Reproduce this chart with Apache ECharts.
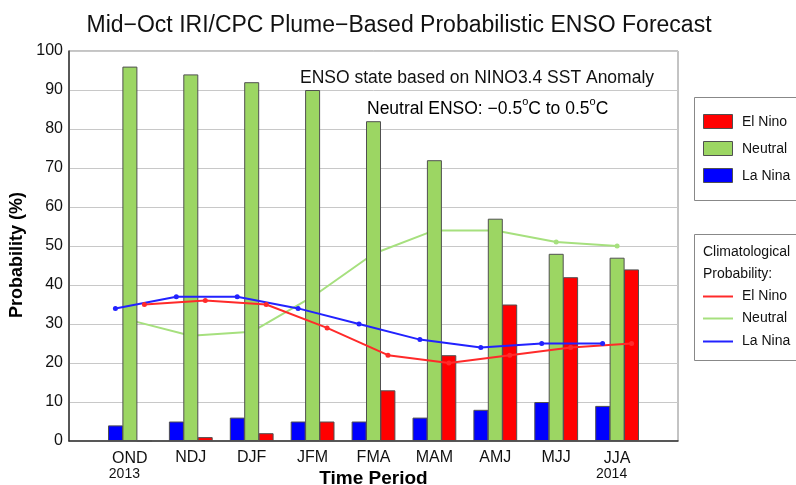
<!DOCTYPE html>
<html>
<head>
<meta charset="utf-8">
<script src="https://cdn.jsdelivr.net/npm/echarts@6/dist/echarts.min.js"></script>
<style>
html,body{margin:0;padding:0;background:#fff;}
#chart{width:796px;height:485px;}
</style>
</head>
<body>
<div id="chart"></div>
<script>
// Categories (first/last blank slots pad the axis)
const categories = ['', 'OND', 'NDJ', 'DJF', 'JFM', 'FMA', 'MAM', 'AMJ', 'MJJ', 'JJA', ''];
const yearLabels = {OND: '2013', JJA: '2014'};
const yTicks = [0, 10, 20, 30, 40, 50, 60, 70, 80, 90, 100];

// Forecast probabilities (bars), one value per season OND..JJA
const laNinaProb  = [4, 5, 6, 5, 5, 6, 8, 10, 9];
const neutralProb = [96, 94, 92, 90, 82, 72, 57, 48, 47];
const elNinoProb  = [0, 1, 2, 5, 13, 22, 35, 42, 44];

// Climatological probabilities (lines)
const climLaNina  = [34, 37, 37, 34, 30, 26, 24, 25, 25];
const climNeutral = [31, 27, 28, 37, 48, 54, 54, 51, 50];
const climElNino  = [35, 36, 35, 29, 22, 20, 22, 24, 25];

const FONT = '"Liberation Sans", Arial, Helvetica, sans-serif';
const RED = '#ff0000', GREEN = '#9cd663', BLUE = '#0000ff';
const LRED = '#ff2a2a', LGREEN = '#a6e07e', LBLUE = '#2222ff';

const chart = echarts.init(document.getElementById('chart'), null, {renderer: 'canvas'});

const off = 0.238; // bar offset in category units
const toPts = (arr, d) => arr.map((v, i) => [i + 1 + d, v]);

const barStyle = c => ({color: c, borderColor: '#505050', borderWidth: 1});

chart.setOption({
  backgroundColor: '#fff',
  animation: false,
  title: {
    text: 'Mid\u2212Oct IRI/CPC Plume\u2212Based Probabilistic ENSO Forecast',
    left: 394, top: 9, textAlign: 'center',
    textStyle: {fontFamily: FONT, fontSize: 23, fontWeight: 'normal', color: '#111'}
  },
  grid: {left: 69, right: 118, top: 51, bottom: 44, show: true, borderColor: '#888', borderWidth: 1,
    containLabel: false, outerBoundsMode: 'none'},
  xAxis: [{
    type: 'category', data: categories, boundaryGap: false,
    axisLine: {lineStyle: {color: '#333', width: 1.5}},
    axisTick: {show: false},
    splitLine: {show: false},
    axisLabel: {
      interval: 0, margin: 9,
      fontFamily: FONT, fontSize: 16, color: '#111',
      formatter: v => yearLabels[v] ? '{c|' + v + '}\n{y|' + yearLabels[v] + '}' : v,
      rich: {
        c: {fontFamily: FONT, fontSize: 16, color: '#111', lineHeight: 17},
        y: {fontFamily: FONT, fontSize: 14, color: '#111', lineHeight: 15, padding: [0, 11, 0, 0]}
      }
    },
    name: 'Time Period', nameLocation: 'middle', nameGap: 28, nameMoveOverlap: false,
    nameTextStyle: {fontFamily: FONT, fontSize: 19, fontWeight: 'bold', color: '#000'}
  }, {
    type: 'value', min: 0, max: 10, show: false
  }],
  yAxis: {
    type: 'value', min: yTicks[0], max: yTicks[yTicks.length - 1], interval: 10,
    axisLine: {show: true, lineStyle: {color: '#333', width: 1.5}},
    axisTick: {show: false},
    splitLine: {lineStyle: {color: '#c8c8c8', width: 1}},
    axisLabel: {margin: 6, fontFamily: FONT, fontSize: 16, color: '#111'},
    name: 'Probability (%)', nameLocation: 'middle', nameGap: 43, nameRotate: 90, nameMoveOverlap: false,
    nameTextStyle: {fontFamily: FONT, fontSize: 18, fontWeight: 'bold', color: '#000', padding: [0, 18, 0, 0]}
  },
  series: [
    {name: 'La Nina', type: 'bar', data: [null].concat(laNinaProb), barWidth: 15, barGap: '-4%', itemStyle: barStyle(BLUE), z: 2},
    {name: 'Neutral', type: 'bar', data: [null].concat(neutralProb), barWidth: 15, barGap: '-4%', itemStyle: barStyle(GREEN), z: 2},
    {name: 'El Nino', type: 'bar', data: [null].concat(elNinoProb), barWidth: 15, barGap: '-4%', itemStyle: barStyle(RED), z: 2},
    {name: 'Clim Neutral', type: 'line', xAxisIndex: 1, data: toPts(climNeutral, 0), symbol: 'circle', symbolSize: 5,
      lineStyle: {color: LGREEN, width: 2}, itemStyle: {color: LGREEN}, z: 1},
    {name: 'Clim El Nino', type: 'line', xAxisIndex: 1, data: toPts(climElNino, off), symbol: 'circle', symbolSize: 5,
      lineStyle: {color: LRED, width: 2}, itemStyle: {color: LRED}, z: 3},
    {name: 'Clim La Nina', type: 'line', xAxisIndex: 1, data: toPts(climLaNina, -off), symbol: 'circle', symbolSize: 5,
      lineStyle: {color: LBLUE, width: 2}, itemStyle: {color: LBLUE}, z: 3}
  ],
  graphic: [
    {type: 'text', left: 300, top: 69, z: 10,
      style: {text: 'ENSO state based on NINO3.4 SST Anomaly', font: '17.5px ' + FONT, fill: '#111'}},
    {type: 'text', left: 367, top: 96, z: 10,
      style: {
        text: '{n|Neutral ENSO: \u22120.5}{s|o}{n|C to 0.5}{s|o}{n|C}',
        rich: {
          n: {fontFamily: FONT, fontSize: 17.5, color: '#111'},
          s: {fontFamily: FONT, fontSize: 11, color: '#111', padding: [0, 0, 15, 0]}
        }
      }},
    // Legend box 1
    {type: 'rect', shape: {x: 694.5, y: 97.5, width: 110, height: 103}, style: {fill: '#fff', stroke: '#888', lineWidth: 1}, z: 10},
    {type: 'rect', shape: {x: 703.5, y: 114.5, width: 29, height: 14}, style: {fill: RED, stroke: '#505050', lineWidth: 1}, z: 11},
    {type: 'rect', shape: {x: 703.5, y: 141.5, width: 29, height: 14}, style: {fill: GREEN, stroke: '#505050', lineWidth: 1}, z: 11},
    {type: 'rect', shape: {x: 703.5, y: 168.5, width: 29, height: 14}, style: {fill: BLUE, stroke: '#505050', lineWidth: 1}, z: 11},
    {type: 'text', x: 742, y: 122, z: 11, style: {text: 'El Nino', font: '14px ' + FONT, fill: '#111', verticalAlign: 'middle'}},
    {type: 'text', x: 742, y: 149, z: 11, style: {text: 'Neutral', font: '14px ' + FONT, fill: '#111', verticalAlign: 'middle'}},
    {type: 'text', x: 742, y: 176, z: 11, style: {text: 'La Nina', font: '14px ' + FONT, fill: '#111', verticalAlign: 'middle'}},
    // Legend box 2
    {type: 'rect', shape: {x: 694.5, y: 234.5, width: 110, height: 126}, style: {fill: '#fff', stroke: '#888', lineWidth: 1}, z: 10},
    {type: 'text', x: 703, y: 252, z: 11, style: {text: 'Climatological', font: '14px ' + FONT, fill: '#111', verticalAlign: 'middle'}},
    {type: 'text', x: 703, y: 274, z: 11, style: {text: 'Probability:', font: '14px ' + FONT, fill: '#111', verticalAlign: 'middle'}},
    {type: 'line', shape: {x1: 703, y1: 296.5, x2: 733, y2: 296.5}, style: {stroke: LRED, lineWidth: 2}, z: 11},
    {type: 'line', shape: {x1: 703, y1: 318.5, x2: 733, y2: 318.5}, style: {stroke: LGREEN, lineWidth: 2}, z: 11},
    {type: 'line', shape: {x1: 703, y1: 341.5, x2: 733, y2: 341.5}, style: {stroke: LBLUE, lineWidth: 2}, z: 11},
    {type: 'text', x: 742, y: 296, z: 11, style: {text: 'El Nino', font: '14px ' + FONT, fill: '#111', verticalAlign: 'middle'}},
    {type: 'text', x: 742, y: 318, z: 11, style: {text: 'Neutral', font: '14px ' + FONT, fill: '#111', verticalAlign: 'middle'}},
    {type: 'text', x: 742, y: 341, z: 11, style: {text: 'La Nina', font: '14px ' + FONT, fill: '#111', verticalAlign: 'middle'}}
  ]
});
</script>
</body>
</html>
